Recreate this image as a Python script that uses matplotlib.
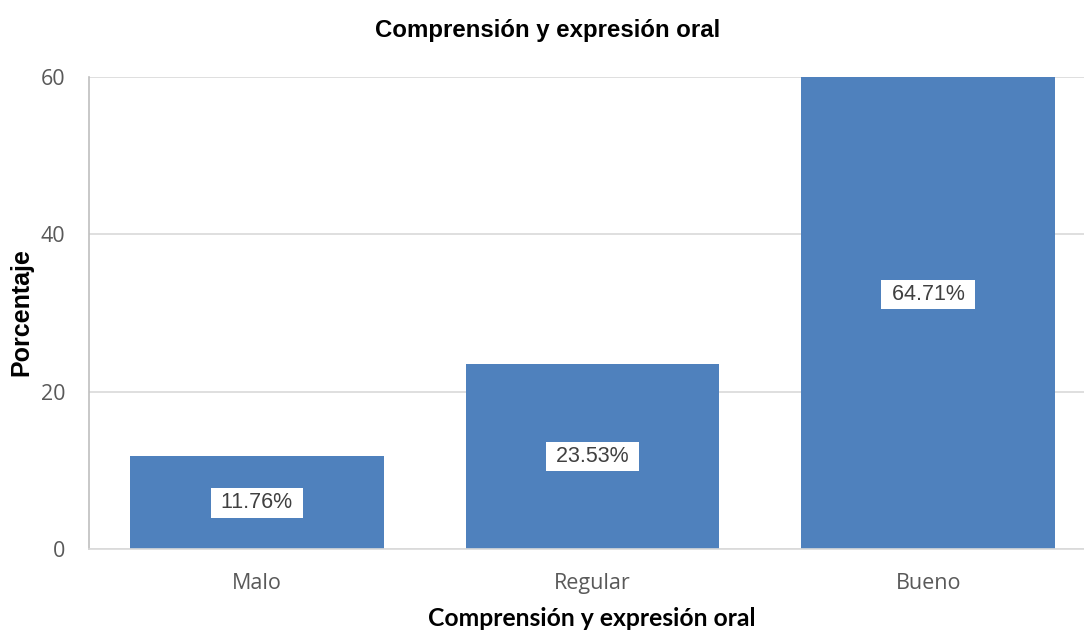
import matplotlib
matplotlib.use("Agg")
import matplotlib.pyplot as plt
import numpy as np

categories = ["Malo", "Regular", "Bueno"]
porcentajes = [11.76, 23.53, 64.71]
etiquetas = ["11.76%", "23.53%", "64.71%"]
yticks = [0, 20, 40, 60]

W, H = 1084, 630
fig = plt.figure(figsize=(W / 100, H / 100), dpi=100)
# axes box in pixels: left 89, right ~1096 (runs past the edge), top 77, bottom 549
ax = fig.add_axes([89 / W, (H - 549) / H, (1096 - 89) / W, (549 - 77) / H])

x = np.arange(len(categories))
ax.bar(x, porcentajes, width=0.755, color="#4F81BD", zorder=2)
for xi, v, lab in zip(x, porcentajes, etiquetas):
    ax.text(xi, v / 2, " " + lab + " ", ha="center", va="center", fontsize=15.5,
            family="Liberation Sans", color="#404040", zorder=3,
            bbox=dict(boxstyle="square,pad=0.2", fc="white", ec="none"))

ax.set_xlim(-0.5, 2.5)
ax.set_ylim(0, 60)
ax.set_yticks(yticks)
ax.set_xticks(x)
ax.set_xticklabels(categories)
ax.tick_params(axis="both", length=0, labelsize=15.5, labelcolor="#595959")
ax.tick_params(axis="y", pad=17)
ax.tick_params(axis="x", pad=17)
for t in ax.get_xticklabels() + ax.get_yticklabels():
    t.set_family("Open Sans")

ax.yaxis.grid(True, color="#D9D9D9", linewidth=1.2, zorder=0)
ax.set_axisbelow(True)
for s in ["top", "right"]:
    ax.spines[s].set_visible(False)
ax.spines["left"].set_color("#BFBFBF")
ax.spines["bottom"].set_color("#D9D9D9")
ax.spines["left"].set_linewidth(1.2)
ax.spines["bottom"].set_linewidth(1.2)

fig.text(548 / W, 1 - 30 / H, "Comprensión y expresión oral", ha="center", va="center",
         fontsize=17.3, fontweight="bold", family="Liberation Sans", color="black")
fig.text(592 / W, 1 - 619 / H, "Comprensión y expresión oral", ha="center", va="center",
         fontsize=17.8, fontweight="bold", family="Lato", color="black")
fig.text(21 / W, 1 - 312 / H, "Porcentaje", ha="center", va="center", rotation=90,
         fontsize=18, fontweight="bold", family="Liberation Sans", color="black")

fig.savefig("out.png", dpi=100)
